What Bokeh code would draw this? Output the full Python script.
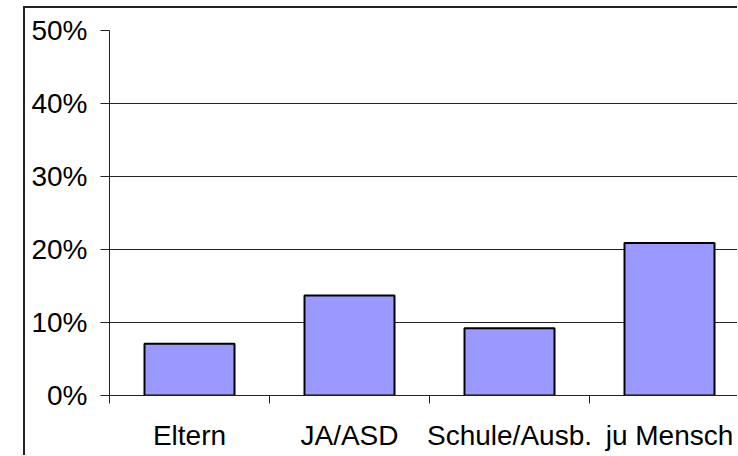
from bokeh.plotting import figure
from bokeh.models import Range1d, FixedTicker, NumeralTickFormatter, ColumnDataSource
from bokeh.embed import file_html
from bokeh.resources import INLINE

categories = ["Eltern", "JA/ASD", "Schule/Ausb.", "ju Mensch"]
values = [0.071, 0.137, 0.092, 0.209]
y_ticks = [0.0, 0.1, 0.2, 0.3, 0.4, 0.5]

positions = [i + 0.5 for i in range(len(categories))]
src = ColumnDataSource(dict(x=positions, top=values, cat=categories))

FONT = "Liberation Sans"

p = figure(
    output_backend="svg", toolbar_location=None,
    frame_width=628, frame_height=365,
    min_border_left=84, min_border_top=22, min_border_right=0, min_border_bottom=60,
    x_range=Range1d(0, 628 / 160), y_range=Range1d(0, 0.5),
    styles={"margin-left": "23px", "margin-top": "6px",
            "border-left": "2px solid #222", "border-top": "2px solid #222"},
)
p.outline_line_color = None
p.background_fill_color = "white"
p.border_fill_color = "white"

p.vbar(x="x", top="top", width=0.5625, source=src,
       fill_color="#9999FF", line_color="black", line_width=2)

# y axis
p.yaxis.ticker = FixedTicker(ticks=y_ticks)
p.yaxis.formatter = NumeralTickFormatter(format="0%")
p.yaxis.major_tick_out = 9
p.yaxis.major_tick_in = 0
p.yaxis.minor_tick_out = 0
p.yaxis.minor_tick_in = 0
p.yaxis.axis_line_color = "#222"
p.yaxis.major_tick_line_color = "#222"
p.yaxis.major_label_text_font = FONT
p.yaxis.major_label_text_font_size = "28px"
p.yaxis.major_label_text_color = "black"
p.yaxis.major_label_standoff = 13

# x axis
p.xaxis.ticker = FixedTicker(ticks=positions, minor_ticks=[0, 1, 2, 3])
p.xaxis.major_label_overrides = {pos: c for pos, c in zip(positions, categories)}
p.xaxis.major_tick_out = 0
p.xaxis.major_tick_in = 0
p.xaxis.minor_tick_out = 8
p.xaxis.minor_tick_in = 0
p.xaxis.minor_tick_line_color = "#222"
p.xaxis.axis_line_color = "#222"
p.xaxis.axis_line_width = 1
p.xaxis.major_label_text_font = FONT
p.xaxis.major_label_text_font_size = "28px"
p.xaxis.major_label_text_color = "black"
p.xaxis.major_label_standoff = 16

p.xgrid.grid_line_color = None
p.ygrid.ticker = FixedTicker(ticks=y_ticks)
p.ygrid.grid_line_color = "#222"
p.ygrid.grid_line_width = 1

open("out.html", "w").write(file_html(p, INLINE))
